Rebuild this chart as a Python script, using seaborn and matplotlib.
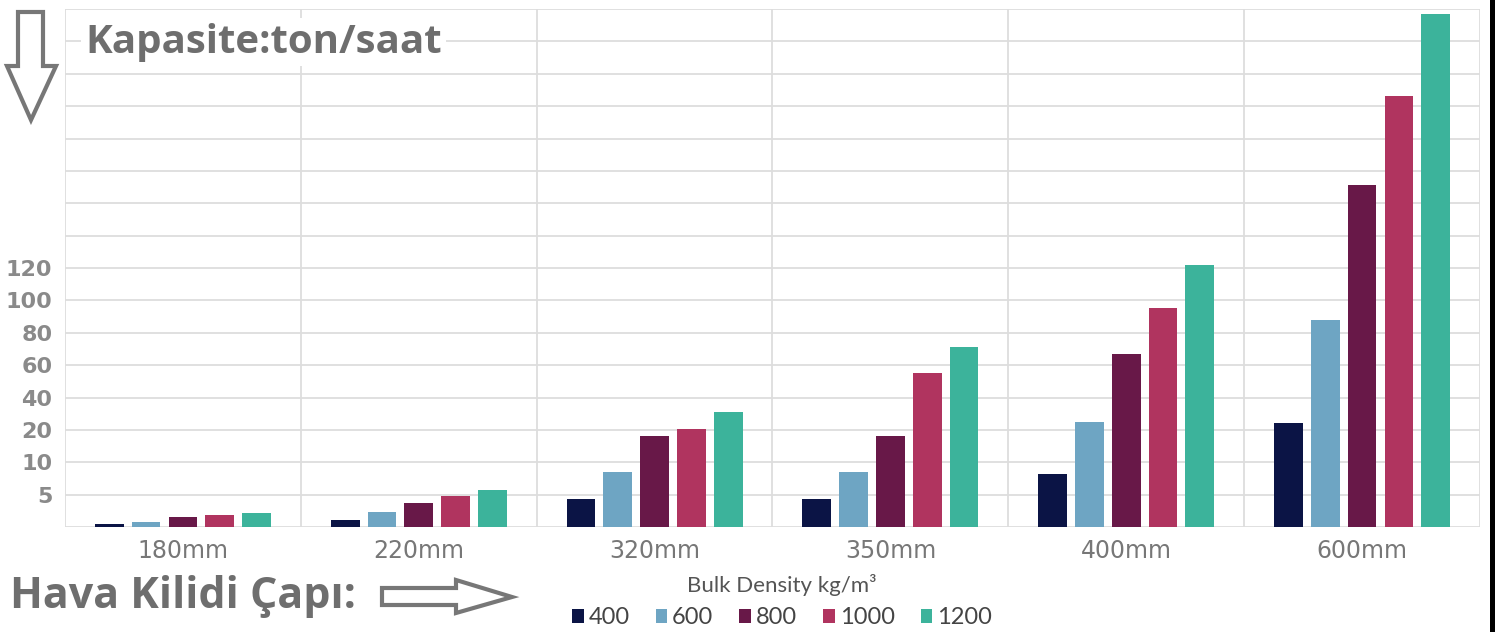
import numpy as np
import pandas as pd
import matplotlib
matplotlib.use('Agg')
import matplotlib.pyplot as plt
from matplotlib.patches import Polygon, Rectangle
import seaborn as sns

# data
sizes = ['180mm', '220mm', '320mm', '350mm', '400mm', '600mm']
densities = ['400', '600', '800', '1000', '1200']
cap_400 = [0.5, 1.1, 4.3, 4.3, 8.2, 24]
cap_600 = [0.8, 2.3, 8.5, 8.5, 25, 88]
cap_800 = [1.5, 3.7, 18, 18, 67, 171]
cap_1000 = [1.9, 4.8, 20.4, 55, 95, 226]
cap_1200 = [2.2, 5.7, 31, 71, 122, 277]

# uneven axis: evenly spaced grid lines, labelled only up to 120
scale_values = [0, 5, 10, 20, 40, 60, 80, 100, 120, 140, 160, 180, 200, 220, 240, 260, 280]
scale_labels = ['', '5', '10', '20', '40', '60', '80', '100', '120'] + [''] * 8

colors = ['#0b1445', '#6ea5c3', '#681848', '#b0345f', '#3cb39b']

rows = []
for d, vals in zip(densities, [cap_400, cap_600, cap_800, cap_1000, cap_1200]):
    for s, v in zip(sizes, vals):
        rows.append({'cap': s, 'dens': d, 'val': v})
df = pd.DataFrame(rows)

sns.set_style('white')
plt.rcParams['font.family'] = ['DejaVu Sans']

W, H = 1495, 632
fig = plt.figure(figsize=(W / 100, H / 100), dpi=100)
ax = fig.add_axes([65 / W, (H - 527) / H, 1415 / W, 518 / H])

sns.barplot(data=df, x='cap', y='val', hue='dens', order=sizes, hue_order=densities,
            palette=colors, saturation=1, width=0.78, gap=0.22, linewidth=0,
            errorbar=None, legend=True, ax=ax)

pos = np.arange(len(scale_values))
ax.set_yscale('function', functions=(lambda v: np.interp(v, scale_values, pos),
                                     lambda p: np.interp(p, pos, scale_values)))
ax.set_ylim(0, 280)
ax.set_xlim(-0.5, len(sizes) - 0.5)
ax.set_yticks(scale_values)
ax.set_yticklabels(scale_labels)
ax.set_xticks(np.arange(-0.5, len(sizes)), minor=True)
ax.grid(True, axis='y', which='major', color='#dddddd', lw=1.3)
ax.grid(True, axis='x', which='minor', color='#dddddd', lw=1.3)
ax.grid(False, axis='x', which='major')
ax.set_axisbelow(True)
for sp in ax.spines.values():
    sp.set_visible(False)
ax.tick_params(axis='both', which='both', length=0)
ax.tick_params(axis='x', pad=9, labelsize=17, labelcolor='#777777')
ax.tick_params(axis='y', pad=9, labelsize=16, labelcolor='#8a8a8a')
for t in ax.get_yticklabels():
    t.set_fontweight('bold')
ax.set_xlabel('')
ax.set_ylabel('')

handles, labels = ax.get_legend_handles_labels()
ax.get_legend().remove()
leg = fig.legend(handles, labels, loc='center', ncol=5,
                 bbox_to_anchor=(782 / W, 1 - 601 / H), frameon=False,
                 title='Bulk Density kg/m³', borderpad=0,
                 handlelength=0.5, handleheight=0.5, handletextpad=0.2,
                 columnspacing=1.1, labelcolor='#444444',
                 prop={'family': 'Lato', 'size': 17})
leg.get_title().set_color('#555555')
leg.get_title().set_family('Lato')
leg.get_title().set_fontsize(16)

# hand-placed labels
fig.text(85 / W, 1 - 42 / H, 'Kapasite:ton/saat', fontsize=29, fontweight='bold',
         color='#6e6e6e', va='center', ha='left', family='Open Sans',
         bbox=dict(facecolor='white', edgecolor='none', pad=3))
fig.text(10 / W, 1 - 596 / H, 'Hava Kilidi Çapı:', fontsize=31, fontweight='bold',
         color='#6e6e6e', va='center', ha='left', family='Open Sans')

def px(points):
    return [(x / W, 1 - y / H) for x, y in points]

down = px([(18, 12), (43, 12), (43, 66), (56, 66), (31, 120), (7, 66), (18, 66)])
fig.patches.append(Polygon(down, closed=True, transform=fig.transFigure,
                           facecolor='white', edgecolor='#777777', lw=3))
right = px([(382, 588), (456, 588), (456, 580), (512, 597), (456, 613), (456, 605), (382, 605)])
fig.patches.append(Polygon(right, closed=True, transform=fig.transFigure,
                           facecolor='white', edgecolor='#777777', lw=3))
fig.patches.append(Rectangle((1490 / W, 0), 5 / W, 1, transform=fig.transFigure,
                             facecolor='black', edgecolor='none'))

fig.savefig('out.png', dpi=100)
